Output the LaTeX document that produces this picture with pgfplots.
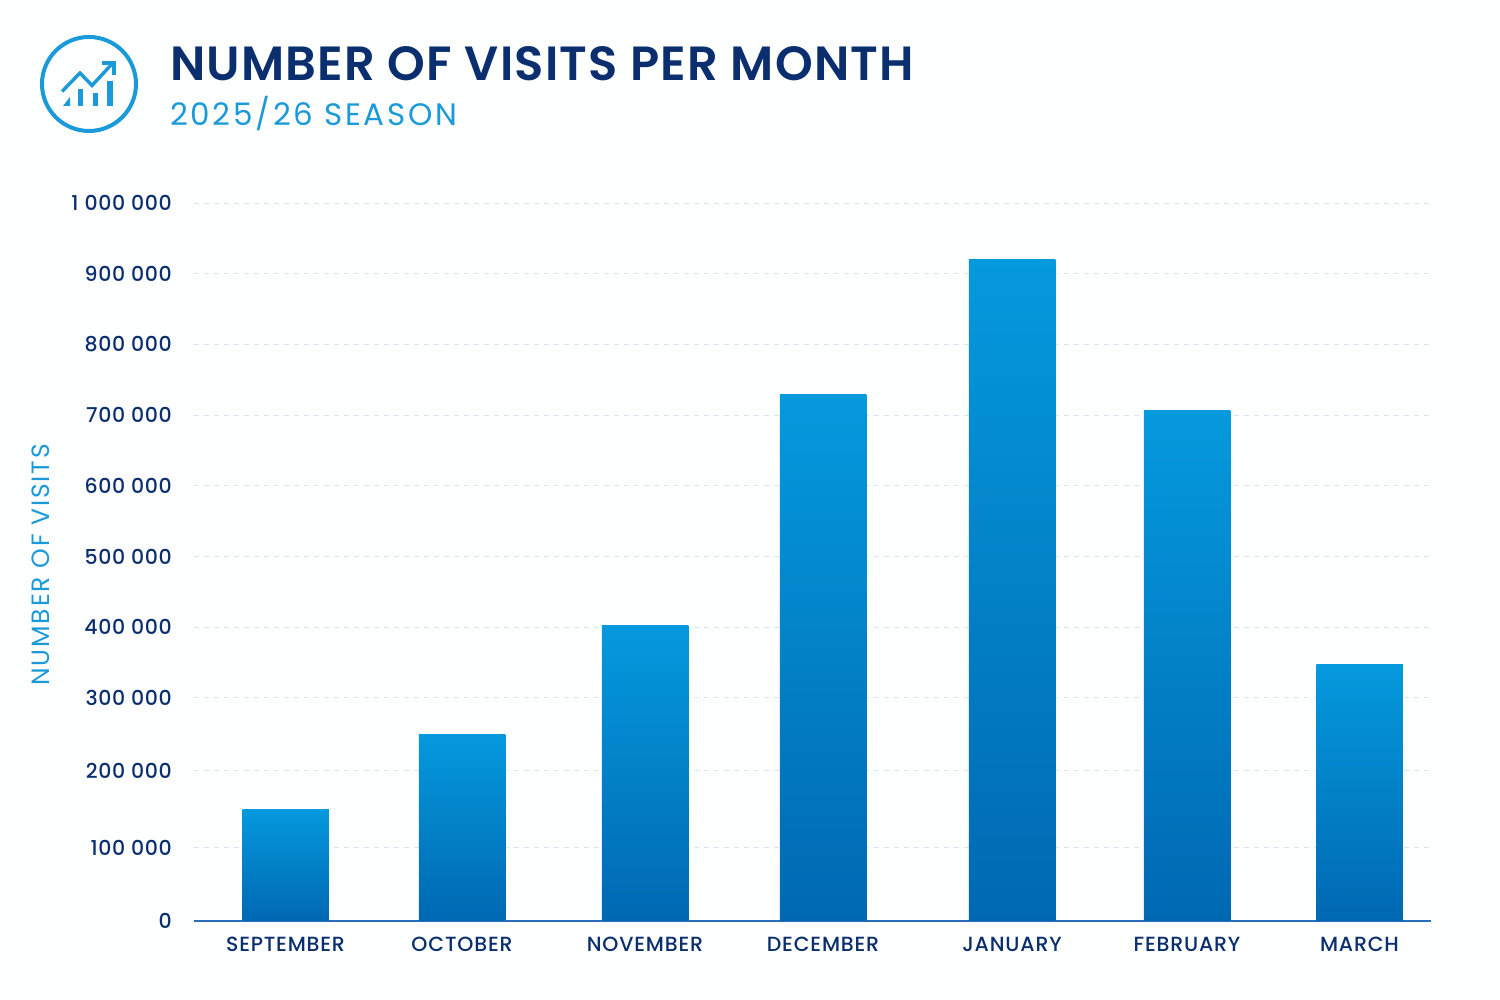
\documentclass[border=0pt]{standalone}
\usepackage{fontspec}
\setmainfont{Poppins}
\newfontfamily\titlefont[LetterSpace=2.5]{Poppins SemiBold}
\newfontfamily\subfont[LetterSpace=8.7]{Poppins}
\newfontfamily\ylabfont[LetterSpace=7.5]{Poppins}
\newfontfamily\medfont[LetterSpace=3]{Poppins Medium}
\newfontfamily\xlabfont[LetterSpace=4]{Poppins Medium}
\usepackage{pgfplots}
\pgfplotsset{compat=1.18}

\definecolor{navy}{HTML}{0B2F6E}
\definecolor{sky}{HTML}{1A9AD8}
\definecolor{bartop}{HTML}{0599DD}
\definecolor{barbot}{HTML}{0068B3}
\definecolor{gridc}{HTML}{D6E6F2}
\definecolor{basec}{HTML}{2A6DBE}
\definecolor{paper}{HTML}{FDFEFE}

% bars above the grid, baseline above the bars
\pgfplotsset{
    layers/barsunder/.define layer set={axis background,axis grid,main,axis ticks,axis lines,axis tick labels,axis descriptions,axis foreground}{},
    gradbar/.style={ybar,bar width=86.5,bar shift=0pt,draw=none,shade,top color=bartop,bottom color=barbot},
}

\begin{document}
\begin{tikzpicture}[x=1pt,y=1pt]
\path[fill=paper] (0,0) rectangle (1500,1000);

% icon
\begin{scope}[draw=sky,fill=sky,line width=4pt]
\draw (89,916) circle (47);
\draw[line width=3.4pt,line join=miter] (62,908.5) -- (80,927) -- (92,914.5) -- (112,936);
\draw[line width=3.4pt] (102,937) -- (114,937) -- (114,925);
\fill[draw=none] (63,894) -- (70,894) -- (70,903) -- cycle;
\fill[draw=none] (78,894) rectangle (83,911);
\fill[draw=none] (93,894) rectangle (98,907);
\fill[draw=none] (107,894) rectangle (113,919);
\end{scope}

% titles
\node[anchor=base west,inner sep=0pt,text=navy,font=\fontsize{48}{48}\selectfont\titlefont] at (170,919) {NUMBER OF VISITS PER MONTH};
\node[anchor=base west,inner sep=0pt,text=sky,font=\fontsize{31}{31}\selectfont\subfont] at (170,874) {2025/26 SEASON};
\node[rotate=90,inner sep=0pt,text=sky,font=\fontsize{25}{25}\selectfont\ylabfont] at (41,435) {NUMBER OF VISITS};

\begin{axis}[
    at={(194pt,79pt)},
    anchor=south west,
    scale only axis,
    width=1237pt,
    height=717.7pt,
    set layers=barsunder,
    xmin=194, xmax=1431,
    ymin=0, ymax=1000,
    % tick spacing in the picture is slightly uneven
    y coord trafo/.code={\pgfmathparse{#1<=100?0.73*#1:(#1<=200?73+0.77*(#1-100):(#1<=300?150+0.73*(#1-200):223+0.7057*(#1-300)))}},
    axis y line*=left,
    axis x line*=bottom,
    y axis line style={draw=none},
    x axis line style={draw=basec,line width=2pt,-},
    xtick={285.5,462,645,823,1012,1187,1359.5},
    xticklabels={SEPTEMBER,OCTOBER,NOVEMBER,DECEMBER,JANUARY,FEBRUARY,MARCH},
    ytick={0,100,200,300,400,500,600,700,800,900,1000},
    yticklabels={0,100 000,200 000,300 000,400 000,500 000,600 000,700 000,800 000,900 000,1 000 000},
    major tick length=0pt,
    ticklabel style={inner sep=0pt,text=navy},
    xticklabel style={yshift=-16pt,font=\fontsize{20.5}{20.5}\selectfont\xlabfont},
    yticklabel style={xshift=-22pt,font=\fontsize{20.5}{20.5}\selectfont\medfont},
    ymajorgrids,
    grid style={draw=gridc,line width=1pt,dash pattern=on 5pt off 5pt},
]
% one plot per bar, so each gets its own top-to-bottom gradient
\addplot[gradbar] coordinates {(285.5,150)};
\addplot[gradbar] coordinates {(462,250)};
\addplot[gradbar] coordinates {(645,403)};
\addplot[gradbar] coordinates {(823,730)};
\addplot[gradbar] coordinates {(1012,920)};
\addplot[gradbar] coordinates {(1187,707)};
\addplot[gradbar] coordinates {(1359.5,347)};
\end{axis}
\end{tikzpicture}
\end{document}
